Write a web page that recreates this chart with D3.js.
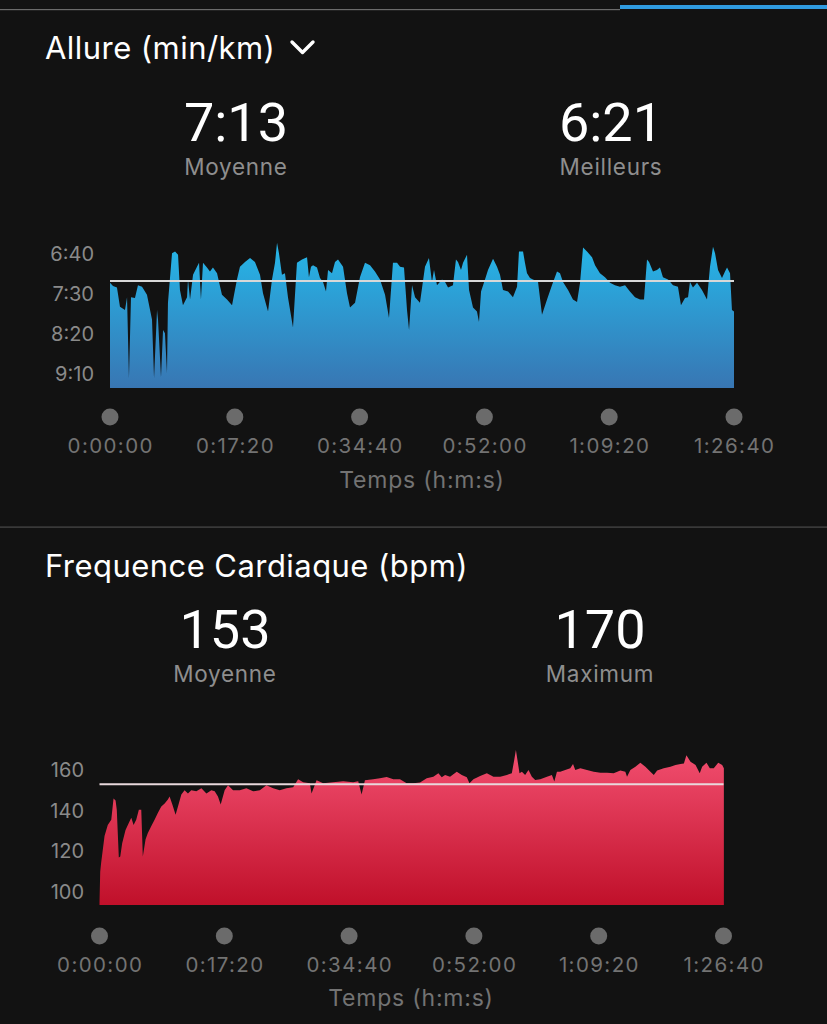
<!DOCTYPE html>
<html><head><meta charset="utf-8">
<script src="https://cdn.jsdelivr.net/npm/d3@7"></script>
<style>
html,body{margin:0;padding:0;background:#121212;}
svg{display:block;font-family:Inter,Roboto,"Noto Sans",sans-serif;}
</style></head>
<body>
<svg id="c" width="827" height="1024"></svg>
<script>
// ---- Data ----
// Pace: [time (s), pace (s/km)]
const paceData = [[0,436],[25,440],[58,442],[83,466],[125,470],[142,454],[158,555],[175,454],[208,455],[233,439],[267,441],[308,451],[350,482],[367,555],[392,470],[400,482],[425,554],[442,495],[458,499],[475,549],[483,461],[517,399],[542,397],[567,401],[583,445],[608,464],[642,454],[650,432],[667,457],[692,426],[725,416],[742,411],[758,457],[775,411],[808,417],[833,422],[858,417],[892,424],[933,451],[975,457],[1017,464],[1058,432],[1083,416],[1125,410],[1167,405],[1208,410],[1250,426],[1275,449],[1317,472],[1350,432],[1375,411],[1392,386],[1408,399],[1433,426],[1458,424],[1483,454],[1525,492],[1558,411],[1600,407],[1642,404],[1658,429],[1675,416],[1692,414],[1725,417],[1750,430],[1775,435],[1800,447],[1817,420],[1850,424],[1875,410],[1900,407],[1942,416],[1975,449],[2000,467],[2042,461],[2083,429],[2125,411],[2167,414],[2208,422],[2250,432],[2292,451],[2325,480],[2358,411],[2392,411],[2417,416],[2450,417],[2475,470],[2492,495],[2517,439],[2542,454],[2583,461],[2625,416],[2658,405],[2683,435],[2700,420],[2725,439],[2767,432],[2792,435],[2817,442],[2858,439],[2883,407],[2900,410],[2925,420],[2942,411],[2975,401],[2992,445],[3025,467],[3058,472],[3075,485],[3092,447],[3125,432],[3150,420],[3192,406],[3225,416],[3250,426],[3275,445],[3317,447],[3358,454],[3392,441],[3408,397],[3442,397],[3458,411],[3475,424],[3500,430],[3525,432],[3567,435],[3600,476],[3642,457],[3683,439],[3725,422],[3750,424],[3775,435],[3817,445],[3858,457],[3892,460],[3917,436],[3942,392],[3975,397],[4017,404],[4042,414],[4083,424],[4125,429],[4167,436],[4208,439],[4250,441],[4292,439],[4333,447],[4375,454],[4417,457],[4450,457],[4475,407],[4492,410],[4525,422],[4558,420],[4583,417],[4608,429],[4650,432],[4692,439],[4733,441],[4758,464],[4792,455],[4817,454],[4833,435],[4858,442],[4892,436],[4933,445],[4975,457],[5000,416],[5025,391],[5042,399],[5067,420],[5100,430],[5125,422],[5142,417],[5167,424],[5183,470],[5200,472]];
// Heart rate: [time (s), bpm]
const hrData = [[0,95],[6,110],[14,114.5],[42,127.5],[69,133],[98,135.5],[117,146],[134,145],[144,140.5],[161,117],[173,117.5],[189,124],[217,130.5],[245,134],[265,136.5],[284,133],[306,135.5],[328,140.5],[348,140.5],[361,117.5],[384,126],[403,129],[432,132.5],[459,135.5],[487,139],[515,142],[543,143.5],[570,145.5],[584,147],[607,143],[634,138],[654,142],[682,148],[709,150],[737,148.5],[765,150],[807,149.5],[849,151],[891,148.5],[932,150],[960,149.5],[987,147],[1010,143],[1043,150],[1071,152.5],[1113,150],[1169,150],[1224,151],[1280,149.5],[1336,150],[1391,152.5],[1447,151],[1502,150],[1558,151],[1614,151.5],[1655,155.5],[1697,154],[1753,153.5],[1767,148.5],[1809,155],[1864,153.5],[1947,154],[2031,154.5],[2114,154],[2156,154.5],[2184,148],[2212,155],[2281,155.5],[2337,156],[2393,156.5],[2448,155.5],[2504,155.5],[2560,153.5],[2615,153.5],[2671,153.8],[2727,155.9],[2782,156.7],[2824,158.4],[2852,156.4],[2880,157.6],[2921,156.7],[2977,159.2],[3019,157.6],[3061,156.4],[3083,153.5],[3116,155.5],[3172,157.1],[3228,158.4],[3283,156.7],[3339,156.7],[3395,157.6],[3436,158.4],[3456,164.9],[3470,169.8],[3483,164.9],[3500,158.4],[3520,159.2],[3547,157.6],[3575,160],[3603,156.7],[3631,155.1],[3673,155.5],[3729,156.7],[3770,157.6],[3790,154.3],[3812,159.2],[3840,159.2],[3881,160],[3923,160.8],[3946,162.9],[3965,160],[4007,160.8],[4062,160],[4118,159.2],[4174,158.7],[4229,158.7],[4285,158.4],[4340,159.7],[4382,159.2],[4396,156.7],[4424,160],[4466,161.6],[4507,163.6],[4549,161.6],[4591,159.2],[4619,157.6],[4647,159.7],[4702,160.8],[4758,161.6],[4800,162.4],[4842,162.9],[4870,163.2],[4891,167.3],[4925,164.1],[4967,162.4],[5002,158.4],[5022,161.6],[5058,163.6],[5086,160.8],[5119,160.8],[5156,163.6],[5189,162.4],[5203,160.8]];

const timeTicks = [0, 1040, 2080, 3120, 4160, 5200];
const timeTickLabels = ["0:00:00","0:17:20","0:34:40","0:52:00","1:09:20","1:26:40"];
const paceTicks = [400, 450, 500, 550];
const paceTickLabels = ["6:40","7:30","8:20","9:10"];
const hrTicks = [100, 120, 140, 160];
const paceAvg = 433, paceBest = "6:21", paceAvgLabel = "7:13";
const hrAvg = 153, hrMax = 170;

const svg = d3.select("#c");
svg.append("rect").attr("width",827).attr("height",1024).attr("fill","#121212");

// top bar
svg.append("rect").attr("x",0).attr("y",9).attr("width",620).attr("height",1.2).attr("fill","#6a6a6a");
svg.append("rect").attr("x",620).attr("y",5).attr("width",207).attr("height",4).attr("fill","#2f9be0");
// divider
svg.append("rect").attr("x",0).attr("y",526.5).attr("width",827).attr("height",1.2).attr("fill","#4a4a4a");

const defs = svg.append("defs");
function grad(id, top, bot, y1, y2){
  const g = defs.append("linearGradient").attr("id",id).attr("gradientUnits","userSpaceOnUse")
    .attr("x1",0).attr("x2",0).attr("y1",y1).attr("y2",y2);
  g.append("stop").attr("offset","0").attr("stop-color",top);
  g.append("stop").attr("offset","1").attr("stop-color",bot);
}
grad("gPace","#25b8ea","#3876b3",240,388);
grad("gHr","#f24f70","#c0102a",750,905);

function header(y, title, chevron){
  svg.append("text").attr("x",45).attr("y",y).attr("fill","#fff")
    .attr("font-size",31).attr("letter-spacing",0.45).text(title);
  if (chevron){
    svg.append("path").attr("d",`M${chevron[0]},${chevron[1]} l10.5,10.5 l10.5,-10.5`)
      .attr("fill","none").attr("stroke","#fff").attr("stroke-width",3.4)
      .attr("stroke-linecap","round").attr("stroke-linejoin","round");
  }
}
function stat(cx, yNum, yLab, num, lab){
  svg.append("text").attr("x",cx).attr("y",yNum).attr("text-anchor","middle")
    .attr("fill","#fff").attr("font-size",54).attr("font-family","Roboto,sans-serif").text(num);
  svg.append("text").attr("x",cx).attr("y",yLab).attr("text-anchor","middle")
    .attr("fill","#8e8e8e").attr("font-size",22.5).attr("letter-spacing",0.7).text(lab);
}
function timeAxis(x, yDot, yLab, yTitle, titleX){
  const g = svg.append("g");
  g.selectAll("circle").data(timeTicks).join("circle")
    .attr("cx",d=>x(d)).attr("cy",yDot).attr("r",8.5).attr("fill","#6b6b6b");
  g.selectAll("text.tl").data(timeTicks).join("text").attr("class","tl")
    .attr("x",d=>x(d)+0.7).attr("y",yLab).attr("text-anchor","middle")
    .attr("fill","#737373").attr("font-size",20.5).attr("letter-spacing",1.4).text((d,i)=>timeTickLabels[i]);
  g.append("text").attr("x",titleX).attr("y",yTitle).attr("text-anchor","middle")
    .attr("fill","#737373").attr("font-size",23).attr("letter-spacing",0.8).text("Temps (h:m:s)");
}

// ---- Pace panel ----
header(59, "Allure (min/km)", [292, 42]);
stat(236, 141, 175, paceAvgLabel, "Moyenne");
stat(611, 141, 175, paceBest, "Meilleurs");

const xP = d3.scaleLinear().domain([0,5200]).range([110,734]);
const yP = d3.scaleLinear().domain([400,550]).range([254,374]);
const pBottom = 388;
svg.append("path").datum(paceData)
  .attr("d", d3.area().x(d=>xP(d[0])).y0(pBottom).y1(d=>yP(d[1])))
  .attr("fill","url(#gPace)");
svg.append("line").attr("x1",xP(0)).attr("x2",xP(5200)).attr("y1",yP(paceAvg)+0.5).attr("y2",yP(paceAvg)+0.5)
  .attr("stroke","#d8d8d8").attr("stroke-width",2);
const ayP = svg.append("g").attr("transform","translate(94,0)")
  .call(d3.axisLeft(yP).tickValues(paceTicks).tickSize(0).tickPadding(0).tickFormat((d,i)=>paceTickLabels[i]));
ayP.select(".domain").remove();
ayP.selectAll("text").attr("fill","#8a8a8a").attr("font-size",20).attr("font-family","Inter,sans-serif");
timeAxis(xP, 417, 453, 488, 422);

// ---- HR panel ----
header(577, "Frequence Cardiaque (bpm)", null);
stat(225, 648, 682, String(hrAvg), "Moyenne");
stat(600, 648, 682, String(hrMax), "Maximum");

const xH = d3.scaleLinear().domain([0,5200]).range([99.5,723.5]);
const yH = d3.scaleLinear().domain([100,160]).range([892,770]);
const hBottom = 905;
svg.append("path").datum(hrData)
  .attr("d", d3.area().x(d=>xH(d[0])).y0(hBottom).y1(d=>yH(d[1])))
  .attr("fill","url(#gHr)");
svg.append("line").attr("x1",xH(0)).attr("x2",xH(5200)).attr("y1",yH(hrAvg)).attr("y2",yH(hrAvg))
  .attr("stroke","#e8d8dc").attr("stroke-width",2);
const ayH = svg.append("g").attr("transform","translate(84,0)")
  .call(d3.axisLeft(yH).tickValues(hrTicks).tickSize(0).tickPadding(0));
ayH.select(".domain").remove();
ayH.selectAll("text").attr("fill","#8a8a8a").attr("font-size",20).attr("font-family","Inter,sans-serif");
timeAxis(xH, 936, 972, 1006, 411);
</script>
</body></html>
